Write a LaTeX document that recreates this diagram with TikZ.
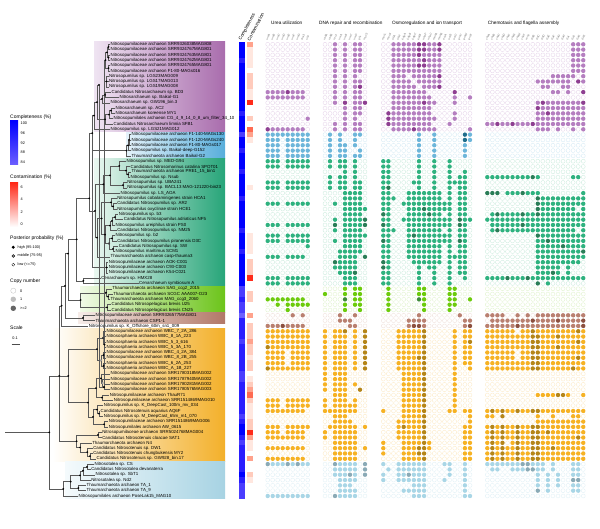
\documentclass[tikz,border=0pt]{standalone}
\usepackage{fontspec}
\setmainfont{Liberation Sans}
\usetikzlibrary{calc}
% dot colours (filled, dark, empty outline)
\definecolor{puC}{HTML}{B57FC0}\definecolor{puD}{HTML}{8E3F91}\definecolor{puL}{HTML}{E4D0E8}
\definecolor{blC}{HTML}{6DB6DA}\definecolor{blD}{HTML}{1F6E8C}\definecolor{blL}{HTML}{D2E9F4}
\definecolor{grC}{HTML}{2FB27F}\definecolor{grD}{HTML}{2A7D57}\definecolor{grL}{HTML}{C8EADB}
\definecolor{liC}{HTML}{6CCB0C}\definecolor{liD}{HTML}{3E8A3A}\definecolor{liL}{HTML}{DDF2C8}
\definecolor{brC}{HTML}{B98070}\definecolor{brD}{HTML}{8C5040}\definecolor{brL}{HTML}{EEDDD7}
\definecolor{orC}{HTML}{F6B224}\definecolor{orD}{HTML}{B58518}\definecolor{orL}{HTML}{FCE8C0}
\definecolor{lbC}{HTML}{A9D6E6}\definecolor{lbD}{HTML}{8AAAB6}\definecolor{lbL}{HTML}{DDEFF5}
% clade boxes
\definecolor{puBL}{HTML}{EFE4F2}\definecolor{puBR}{HTML}{A96DAD}
\definecolor{blBL}{HTML}{E4F2FA}\definecolor{blBR}{HTML}{58AEDB}
\definecolor{grBL}{HTML}{EAF7F0}\definecolor{grBR}{HTML}{27A579}
\definecolor{liBL}{HTML}{F2FAE8}\definecolor{liBR}{HTML}{6CC41A}
\definecolor{brBL}{HTML}{F6ECE8}\definecolor{brBR}{HTML}{B27868}
\definecolor{orBL}{HTML}{FFFFFF}\definecolor{orBR}{HTML}{F3B02A}
\definecolor{lbBL}{HTML}{F4FAFC}\definecolor{lbBR}{HTML}{A7D3E3}
% heat colours
\definecolor{cmp0}{HTML}{0000FF}\definecolor{cmp1}{HTML}{2A1EFF}\definecolor{cmp2}{HTML}{4A3DFF}\definecolor{cmp3}{HTML}{6D60FF}
\definecolor{ctm0}{HTML}{FFFFFF}\definecolor{ctm1}{HTML}{FFE7DF}\definecolor{ctm2}{HTML}{FFCBBC}\definecolor{ctm3}{HTML}{FFA28C}\definecolor{ctm4}{HTML}{FF6B52}\definecolor{ctm5}{HTML}{FF2B1A}

\newcommand\R[1]{44.3+(#1-1)*5.314}
\newcount\mgrp \newcount\mcol
\newcommand\mrow[3]{\pgfmathsetmacro\my{\R{#1}}\def\mclr{#2}\global\mgrp=1\relax\global\mcol=0\relax\mloop#3\relax}
\def\mloop#1{\ifx#1\relax\else\mone#1\expandafter\mloop\fi}
\def\mone#1{\if#1|\global\advance\mgrp by 1\relax\global\mcol=0\relax\else
 \global\advance\mcol by 1\relax
 \ifcase\mgrp\or\def\mxo{267.7}\def\mst{5}\or\def\mxo{325}\def\mst{5}\or\def\mxo{383.3}\def\mst{5.1}\or\def\mxo{487.3}\def\mst{5.05}\fi
 \pgfmathsetmacro\mx{\mxo+(\the\mcol-1)*\mst}%
 \if#10\def\mrad{2.0}\else\def\mrad{2.2}\fi
 \edef\mtmp{\noexpand\path[m-\mclr-#1] (\mx,\my) circle[radius=\mrad];}\mtmp
 \fi}

\tikzset{
 tree/.style={draw=black!65,line width=0.45pt},
 tip/.style={anchor=west,inner sep=0.4pt,font=\fontsize{4.4}{5}\selectfont},
 lgd/.style={anchor=west,inner sep=0pt,font=\fontsize{5}{6}\selectfont},
 lgs/.style={anchor=west,inner sep=0pt,font=\fontsize{3.8}{4.5}\selectfont},
 grp/.style={anchor=west,inner sep=0pt,font=\fontsize{4.7}{5.5}\selectfont},
 gene/.style={anchor=west,rotate=65,inner sep=0pt,text=black!55,font=\fontsize{2.9}{3}\selectfont},
 hdr/.style={anchor=west,rotate=62,inner sep=0pt,font=\fontsize{4.7}{5.5}\selectfont},
 m-pu-0/.style={draw=puL,line width=0.3pt},m-pu-1/.style={fill=puC},m-pu-2/.style={fill=puD},
 m-bl-0/.style={draw=blL,line width=0.3pt},m-bl-1/.style={fill=blC},m-bl-2/.style={fill=blD},
 m-gr-0/.style={draw=grL,line width=0.3pt},m-gr-1/.style={fill=grC},m-gr-2/.style={fill=grD},
 m-li-0/.style={draw=liL,line width=0.3pt},m-li-1/.style={fill=liC},m-li-2/.style={fill=liD},
 m-br-0/.style={draw=brL,line width=0.3pt},m-br-1/.style={fill=brC},m-br-2/.style={fill=brD},
 m-or-0/.style={draw=orL,line width=0.3pt},m-or-1/.style={fill=orC},m-or-2/.style={fill=orD},
 m-lb-0/.style={draw=lbL,line width=0.3pt},m-lb-1/.style={fill=lbC},m-lb-2/.style={fill=lbD},
}
\begin{document}
\begin{tikzpicture}[x=1pt,y=-1pt]
\useasboundingbox (0,0) rectangle (600,529);
\fill[white] (0,0) rectangle (600,529);

% ---------- clade boxes ----------
\shade[left color=puBL,right color=puBR] (94,{\R{1}-2.4}) rectangle (225,{\R{17}+2.4});
\shade[left color=blBL,right color=blBR] (126,{\R{18}-2.4}) rectangle (225,{\R{22}+2.4});
\shade[left color=grBL,right color=grBR] (94,{\R{23}-2.4}) rectangle (225,{\R{46}+2.4});
\shade[left color=liBL,right color=liBR] (80,{\R{47}-2.4}) rectangle (225,{\R{51}+2.4});
\shade[left color=brBL,right color=brBR] (78,{\R{52}-2.4}) rectangle (225,{\R{53}+2.4});
\shade[left color=orBL,right color=orBR] (52,{\R{55}-2.4}) rectangle (225,{\R{79}+2.4});
\shade[left color=lbBL,right color=lbBR] (65,{\R{80}-2.4}) rectangle (225,{\R{86}+2.4});

% ---------- tip labels ----------
\foreach \i/\x/\n in {
1/110/{Nitrosopumilaceae archaeon SRR9326038MAG808},
2/110/{Nitrosopumilaceae archaeon SRR9324767MAG801},
3/110/{Nitrosopumilaceae archaeon SRR9324763MAG801},
4/110/{Nitrosopumilaceae archaeon SRR9324762MAG801},
5/110/{Nitrosopumilaceae archaeon SRR9324765MAG801},
6/110/{Nitrosopumilaceae archaeon F1-80-MAGs016},
7/108.5/{Nitrosopumilus sp. LGS23MAG009},
8/108.5/{Nitrosopumilus sp. LGS17MAG013},
9/108.5/{Nitrosopumilus sp. LGS19MAG008},
10/111/{Candidatus Nitrosarchaeum sp. BD3},
11/119/{Nitrosarchaeum sp. Baikal-G1},
12/110/{Nitrosarchaeum sp. GW196\_bin.3},
13/115/{Nitrosarchaeum sp. AC2},
14/115/{Nitrosarchaeum koreense MY1},
15/113/{Nitrosopumilales archaeon CG\_4\_9\_14\_0\_8\_um\_filter\_34\_10},
16/113/{Candidatus Nitrosarchaeum limnia SFB1},
17/110/{Nitrosopumilus sp. LGS21MAG012},
18/131/{Nitrosopumilaceae archaeon F1-140-MAGs130},
19/131/{Nitrosopumilaceae archaeon F1-120-MAGs240},
20/131/{Nitrosopumilaceae archaeon F1-80-MAGs017},
21/131/{Nitrosopumilus sp. Baikal-deep-G152},
22/131/{Thaumarchaeota archaeon Baikal-G2},
23/126/{Nitrosopumilus sp. MED-G94},
24/130/{Candidatus Nitrosomarinus catalina SPOT01},
25/131/{Thaumarchaeota archaeon PRE1\_15\_bin1},
26/130/{Nitrosopumilus sp. Nsub},
27/126.7/{Nitrosopumilus sp. UBA241},
28/126.7/{Nitrosopumilus sp. BACL13 MAG-121220-bin23},
29/120/{Nitrosopumilus sp. LS\_AOA},
30/116.7/{Nitrosopumilus cobalaminigenes strain HCA1},
31/116.7/{Candidatus Nitrosopumilus sp. AR2},
32/116.7/{Nitrosopumilus oxyclinae strain HCE1},
33/118.3/{Nitrosopumilus sp. b3},
34/123.3/{Candidatus Nitrosopumilus adriaticus NF5},
35/115/{Nitrosopumilus ureiphilus strain PS0},
36/116.7/{Candidatus Nitrosopumilus sp. NM25},
37/115/{Nitrosopumilus sp. b2},
38/116.7/{Candidatus Nitrosopumilus piranensis D3C},
39/118.3/{Candidatus Nitrosopumilus sp. SW},
40/115/{Nitrosopumilus maritimus SCM1},
41/110/{Thaumarchaeota archaeon casp-thauma3},
42/108.3/{Nitrosopumilaceae archaeon AOK-C001},
43/108.3/{Nitrosopumilaceae archaeon C93-C003},
44/108.3/{Nitrosopumilaceae archaeon K54-C021},
45/100.7/{Cenarchaeum sp. HMX28},
46/138.5/{Cenarchaeum symbiosum A},
47/111.7/{Thaumarchaeota archaeon SAG\_ccg2\_2015},
48/112.7/{Thaumarchaeota archaeon SCGC AAA007-O23},
49/110/{Thaumarchaeota archaeon MAG\_ccg3\_2060},
50/111/{Candidatus Nitrosopelagicus brevis U25},
51/111/{Candidatus Nitrosopelagicus brevis CN25},
52/95/{Nitrosopumilaceae archaeon SRR9326577MAG801},
53/95/{Thaumarchaeota archaeon CSP1-1},
54/88.3/{Nitrosopumilus sp. K\_Offshore\_60m\_sn1\_009},
55/106/{Nitrosopumilaceae archaeon WBC\_7\_2A\_286},
56/106/{Nitrososphaeria archaeon WBC\_8\_1A\_223},
57/106/{Nitrososphaeria archaeon WBC\_5\_3\_616},
58/106/{Nitrososphaeria archaeon WBC\_5\_3A\_170},
59/106/{Nitrosopumilaceae archaeon WBC\_4\_2A\_384},
60/106/{Nitrosopumilaceae archaeon WBC\_8\_2B\_255},
61/106/{Nitrososphaeria archaeon WBC\_6\_2A\_253},
62/106/{Nitrososphaeria archaeon WBC\_A\_1B\_227},
63/110/{Nitrosopumilaceae archaeon SRR1780318MAG002},
64/110/{Nitrosopumilaceae archaeon SRR1787940MAG002},
65/110/{Nitrosopumilaceae archaeon SRR1780281MAG002},
66/110/{Nitrosopumilaceae archaeon SRR1780576MAG003},
67/109.3/{Nitrosopumilaceae archaeon ThauR71},
68/113.3/{Nitrosopumilaceae archaeon SRR1514869MAG010},
69/103.3/{Nitrosopumilus sp. K\_DeepCast\_100m\_mv\_034},
70/100/{Candidatus Nitrosotenuis aquarius AQ6F},
71/103.3/{Nitrosopumilus sp. M\_DeepCast\_65m\_m1\_070},
72/108.3/{Nitrosopumilaceae archaeon SRR1514869MAG006},
73/108.3/{Nitrosopumilales archaeon AW\_0615},
74/101.7/{Nitrosopumilaceae archaeon SRR5024768MAG004},
75/101.7/{Candidatus Nitrosotenuis cloacae SAT1},
76/91.7/{Thaumarchaeota archaeon N4},
77/92.7/{Candidatus Nitrosotenuis sp. DW1},
78/92.7/{Candidatus Nitrosotenuis chungbukensis MY2},
79/96/{Candidatus Nitrosotenuis sp. GW928\_bin.17},
80/94/{Nitrosotalea sp. CS},
81/90.7/{Candidatus Nitrosotalea devanaterra},
82/95/{Nitrosotalea sp. SbT1},
83/90.7/{Nitrosotalea sp. Nd2},
84/86/{Thaumarchaeota archaeon TA\_1},
85/86/{Thaumarchaeota archaeon TA\_9},
86/78/{Nitrosopumilales archaeon PoseLak15\_MAG10}}
{\node[tip] (t\i) at (\x,{\R{\i}}) {\n};}

% ---------- internal nodes ----------
\foreach \n/\x/\r in {a1/108.5/1.5, a2/108.5/3.5, a3/108.5/5.5, a4/107/2.5, a5/105.5/4, b1/106.5/8, c1/103/6, d1/105/10.5, d2/102/11.25, e1/99/8.625, f1/111/13.5, f2/109/14.25, f3/105/15.125, g1/97/11.875, P/94/14.4375, h1/129/19, h2/128/20, B/126.5/21, PB/92.3/17.72, j1/128/25.5, j2/126/24.75, j3/119.3/23.875, j4/123/27.5, j5/110/25.6875, j6/103.3/27.34, k1b/113/31.5, k1/111/30.75, k2/115/33.5, k3/112/34.25, k4/110/35.125, k5/112/37.5, k6/113/39.5, k7/109/38.5, k8/105/36.81, k9/101.7/33.78, k10/97/37.39, m1/106.7/43, G1/95/32.37, G2/89.3/30, CEN/83.3/45.5, G3/76.7/37.7, L1b/108/48.5, L1/106/47.75, L2/107/50.5, LIME/80.7/49.125, T2/68/40.4, BR/83/52.5, T3/65/46.45, UP/61.7/50.2, OW1b/104.5/57.5, OW1/103/56.25, OW2a/103.5/59.5, OW2b/103.5/61.5, OW2/101/60.5, OW/97/58.375, c1/104/65.5, c2/102.5/64.75, c3/101/63.875, OS1b/102/67.5, OS1/96/65.69, OS2a1/99/70.5, OS2a/97/69.75, OS2b/104/72.5, OS2/93/71.125, OS/88/68.41, OA/68.3/63.39, OZ1/98/74.5, NTN2/90/78.5, NTN/87.3/77.75, OZ2/80/76.875, OZ/76.7/75.69, IN/59.3/63.39, NTb/87/80.5, NTa/83/81.25, NT/80/82.125, TA/78.3/84.5, LBa/70.7/83.31, LB/63.3/84.66, N0/49.3/74.02}
{\coordinate (\n) at (\x,{\R{\r}});}
\coordinate (RT) at (5,{\R{74.02}});

% ---------- branches ----------
\foreach \p/\c in {a1/t1.west, a1/t2.west, a2/t3.west, a2/t4.west, a3/t5.west, a3/t6.west, a4/a1, a4/a2, a5/a4, a5/a3, b1/t7.west, b1/t8.west, b1/t9.west, c1/a5, c1/b1, d1/t10.west, d1/t11.west, d2/d1, d2/t12.west, e1/c1, e1/d2, f1/t13.west, f1/t14.west, f2/f1, f2/t15.west, f3/f2, f3/t16.west, g1/e1, g1/f3, P/g1, P/t17.west, h1/t18.west, h1/t19.west, h1/t20.west, h2/h1, h2/t21.west, B/h2, B/t22.west, PB/P, PB/B, j1/t25.west, j1/t26.west, j2/t24.west, j2/j1, j3/t23.west, j3/j2, j4/t27.west, j4/t28.west, j5/j3, j5/j4, j6/j5, j6/t29.west, k1b/t31.west, k1b/t32.west, k1/t30.west, k1/k1b, k2/t33.west, k2/t34.west, k3/k2, k3/t35.west, k4/k3, k4/t36.west, k5/t37.west, k5/t38.west, k6/t39.west, k6/t40.west, k7/k5, k7/k6, k8/k4, k8/k7, k9/k1, k9/k8, k10/k9, k10/t41.west, m1/t42.west, m1/t43.west, m1/t44.west, G1/j6, G1/k10, G2/PB, G2/G1, PB/m1, CEN/t45.west, CEN/t46.west, G3/G2, G3/CEN, L1b/t48.west, L1b/t49.west, L1/t47.west, L1/L1b, L2/t50.west, L2/t51.west, LIME/L1, LIME/L2, T2/G3, T2/LIME, BR/t52.west, BR/t53.west, T3/T2, T3/BR, UP/T3, UP/t54.west, OW1b/t57.west, OW1b/t58.west, OW1/t55.west, OW1/t56.west, OW1/OW1b, OW2a/t59.west, OW2a/t60.west, OW2b/t61.west, OW2b/t62.west, OW2/OW2a, OW2/OW2b, OW/OW1, OW/OW2, c1/t65.west, c1/t66.west, c2/t64.west, c2/c1, c3/t63.west, c3/c2, OS1b/t67.west, OS1b/t68.west, OS1/c3, OS1/OS1b, OS2a1/t70.west, OS2a1/t71.west, OS2a/t69.west, OS2a/OS2a1, OS2b/t72.west, OS2b/t73.west, OS2/OS2a, OS2/OS2b, OS/OS1, OS/OS2, OA/OW, OA/OS, OZ1/t74.west, OZ1/t75.west, NTN2/t78.west, NTN2/t79.west, NTN/t77.west, NTN/NTN2, OZ2/t76.west, OZ2/NTN, OZ/OZ1, OZ/OZ2, IN/UP, IN/OA, IN/OZ, NTb/t80.west, NTb/t81.west, NTa/NTb, NTa/t82.west, NT/NTa, NT/t83.west, TA/t84.west, TA/t85.west, LBa/NT, LBa/TA, LB/LBa, LB/t86.west, N0/IN, N0/LB}
{\draw[tree] (\p) |- (\c);}
\draw[tree] (RT) -- (N0);

% posterior dots
\foreach \n in {a1,a2,a3,a4,a5,b1,c1,d1,d2,e1,f1,f2,f3,g1,P,h1,h2,B,PB,j1,j2,j3,j4,j5,j6,k1b,k1,k2,k3,k4,k5,k6,k8,k9,k10,m1,G1,G2,CEN,G3,L1b,L1,L2,LIME,T2,BR,T3,UP,OW1b,OW2a,OW2b,OW,c1,c3,OS1b,OS1,OS2a1,OS2a,OS2b,OS2,OS,OA,OZ1,NTN2,NTN,OZ2,OZ,IN,NTb,NTa,NT,TA,LBa,LB,N0}
{\fill[black] (\n) circle[radius=1.0];}
\foreach \n in {k7,OW1}{\filldraw[fill=black!45,draw=black,line width=0.2pt] (\n) circle[radius=1.0];}
\foreach \n in {OW2,c2}{\filldraw[fill=white,draw=black!70,line width=0.25pt] (\n) circle[radius=1.0];}

% ---------- legend ----------
\node[lgd] (lg1) at (10,117) {Completeness (\%)};
\shade[top color=cmp0,bottom color=cmp3] (10,121) rectangle (18,165);
\foreach \t/\y in {100/123.5,96/133,92/143,88/152.5,84/162.3}{\node[lgs] at (20.5,\y) {\t};}
\node[lgd] (lg2) at (10,177.7) {Contamination (\%)};
\shade[top color=ctm5,bottom color=white] (10,183) rectangle (18,227);
\foreach \t/\y in {6/187,4/199.5,2/212,0/224.5}{\node[lgs] at (20.5,\y) {\t};}
\node[lgd] (lg3) at (10,238.3) {Posterior probability (\%)};
\fill[black] (13.3,247.3) circle[radius=1.6];
\filldraw[fill=black!45,draw=black,line width=0.3pt] (13.3,256) circle[radius=1.5];
\filldraw[fill=white,draw=black,line width=0.3pt] (13.3,264.7) circle[radius=1.5];
\node[lgs] at (17.5,247.3) {high (95-100)};
\node[lgs] at (17.5,256) {middle (75-95)};
\node[lgs] at (17.5,264.7) {low (<=75)};
\node[lgd] (lg4) at (10,281.7) {Copy number};
\draw[black!25,line width=0.3pt] (13.3,290.7) circle[radius=2.6];
\fill[black!25] (13.3,299.3) circle[radius=2.7];
\fill[black!60] (13.3,308.3) circle[radius=2.7];
\node[lgs] at (20,290.7) {0};
\node[lgs] at (20,299.3) {1};
\node[lgs] at (20,308.3) {>=2};
\node[lgd] (lg5) at (10,327.3) {Scale};
\node[lgs] at (12.3,338.3) {0.1};
\draw[black!70,line width=0.6pt] (11.7,344) -- (20,344);

% ---------- heat columns ----------
\foreach \r/\c/\k in {1/0/3,2/0/1,3/0/1,4/1/1,5/0/1,6/0/0,7/0/2,8/0/2,9/0/2,10/0/1,11/0/1,12/0/5,13/0/0,14/1/0,15/0/2,16/0/0,17/0/4,18/2/3,19/0/1,20/0/0,21/1/0,22/0/0,23/0/0,24/0/0,25/1/0,26/0/0,27/0/0,28/0/1,29/0/0,30/1/0,31/0/0,32/0/0,33/0/0,34/0/0,35/0/0,36/1/0,37/0/1,38/0/1,39/0/1,40/1/1,41/0/0,42/0/2,43/0/2,44/0/2,45/0/5,46/0/0,47/2/0,48/2/2,49/1/2,50/2/0,51/2/0,52/3/3,53/1/0,54/1/2,55/1/2,56/1/2,57/2/3,58/1/2,59/1/2,60/1/1,61/1/2,62/1/2,63/2/0,64/2/1,65/1/2,66/1/3,67/1/4,68/1/2,69/1/1,70/1/1,71/2/1,72/1/2,73/0/2,74/0/5,75/1/3,76/2/1,77/1/1,78/1/0,79/1/3,80/1/0,81/1/0,82/0/2,83/1/1,84/2/0,85/2/0,86/2/0}
{\fill[cmp\c] (239,{\R{\r}-2.7}) rectangle (245,{\R{\r}+2.7});
 \fill[ctm\k] (246.5,{\R{\r}-2.7}) rectangle (253,{\R{\r}+2.7});}
\node[hdr] (hc1) at (240,40.5) {Completeness};
\node[hdr] (hc2) at (248.5,40.5) {Contamination};

% ---------- group titles and gene headers ----------
\node[grp] (g1t) at (271,23.3) {Urea utilization};
\node[grp] (g2t) at (319,23.3) {DNA repair and recombination};
\node[grp] (g3t) at (392,23.3) {Osmoregulation and ion transport};
\node[grp] (g4t) at (487.7,23.3) {Chemotaxis and flagella assembly};
\foreach \g [count=\i] in {ureA,ureB,ureC,ureD,ureE,ureF,ureG,dur3,utp}
 {\node[gene] at ({267.7+(\i-1)*5-1},40) {\g};}
\foreach \g [count=\i] in {radA,radB,recJ,uvrA,uvrB,uvrC,uvrD,phr,mutS}
 {\node[gene] at ({325+(\i-1)*5-1},40) {\g};}
\foreach \g [count=\i] in {mscL,mscS,trkA,trkH,kdpA,kdpB,kdpC,kefB,nhaP,nhaC,mnhA,mnhB,ectA,ectB,ectC,proV,proW,proX}
 {\node[gene] at ({383.3+(\i-1)*5.1-1},40) {\g};}
\foreach \g [count=\i] in {cheA,cheB,cheC,cheD,cheF,cheR,cheW,cheY,mcp,flaB,flaC,flaD,flaE,flaF,flaG,flaH,flaI,flaJ,flaK,flaX}
 {\node[gene] at ({487.3+(\i-1)*5.05-1},40) {\g};}

% ---------- dot matrix ----------
\mrow{1}{pu}{000000000|001010110|001111122112000000|00000000000000000111}
\mrow{2}{pu}{000000000|001010110|001111122112000000|00000000000000000111}
\mrow{3}{pu}{000000000|001010110|001111121111000000|00000000000000000111}
\mrow{4}{pu}{000000000|001010110|001111112111000000|00000000000000000111}
\mrow{5}{pu}{000000000|001010110|001111122111000000|00000000000000000111}
\mrow{6}{pu}{000000000|001010110|001111111111000000|00000000000000000111}
\mrow{7}{pu}{000000000|001010100|001110111112000000|00000000000001111101}
\mrow{8}{pu}{000000000|001010110|001111011111000000|00000000001111111021}
\mrow{9}{pu}{000000000|001010120|001111101112000000|00000000000110011000}
\mrow{10}{pu}{111121110|001010110|001111111000002000|00000000000001101002}
\mrow{11}{pu}{111111110|001010110|001111111100001001|00000000000000000000}
\mrow{12}{pu}{000000000|001020112|001111112110001000|00000000001211111112}
\mrow{13}{pu}{000000000|000010110|001111111100000000|00000000002111111111}
\mrow{14}{pu}{000000000|000010110|021111111100001000|00000000001121111111}
\mrow{15}{pu}{000000001|000010100|021111111110001000|00000000001111111111}
\mrow{16}{pu}{000000000|001010110|021111111100010000|11211211121111111111}
\mrow{17}{pu}{211111110|001010110|001111211110000001|00000000001110100101}
\mrow{18}{bl}{111111111|010100110|000000010010000021|00000000000000000000}
\mrow{19}{bl}{111011111|010100100|000000010010000021|00000000000000000000}
\mrow{20}{bl}{111011111|010110100|000000010010000010|00000000000000000000}
\mrow{21}{bl}{111011111|010110010|000000010010000010|00000000000000000000}
\mrow{22}{bl}{111011111|010110110|000000010010000010|00000000000000000000}
\mrow{23}{gr}{111011111|010110100|110000010010010000|00000000000000000000}
\mrow{24}{gr}{111011111|010110100|110000010010010000|00000000000000000000}
\mrow{25}{gr}{000000000|000010100|110000010010010010|00000000000000000000}
\mrow{26}{gr}{000000000|010110100|110000010010010110|11111111121000000110}
\mrow{27}{gr}{111011111|010110110|110000110010011110|00000000000000000000}
\mrow{28}{gr}{111011111|010110110|120000010010010110|00000000000000000000}
\mrow{29}{gr}{000000000|000011110|110001111111010110|22201112111000000001}
\mrow{30}{gr}{000000000|000011110|111001111111010110|00000000002111111111}
\mrow{31}{gr}{111011111|001011110|110011111111110110|00000000002111111111}
\mrow{32}{gr}{000000000|000011111|110001112111110110|00000000002111111101}
\mrow{33}{gr}{000000000|000011110|210001111211010110|01211112112111111111}
\mrow{34}{gr}{000000000|001011112|110011111111110211|11111111111111111111}
\mrow{35}{gr}{111011111|002011112|210001111111110210|01111112111111111111}
\mrow{36}{gr}{000000000|001011110|111001111111010110|01211111111111111101}
\mrow{37}{gr}{111011111|000011111|110001211111110110|00000000002111111111}
\mrow{38}{gr}{111011111|001011110|210001111111110210|00000000001121111111}
\mrow{39}{gr}{000000001|000011110|110001111111010110|00000000001111121111}
\mrow{40}{gr}{000000000|000111110|110001111111010110|00000000001111111112}
\mrow{41}{gr}{111011110|000111102|110001111111011110|00000000001111111111}
\mrow{42}{gr}{000000000|002111100|210000111111010110|00000000001111111110}
\mrow{43}{gr}{000000000|001111100|210000010110010110|00000000001111101000}
\mrow{44}{gr}{000000000|000111200|110000010010010110|00000000001112101000}
\mrow{45}{gr}{111011111|000011100|110000010010010010|11112111211111111111}
\mrow{46}{gr}{111011111|000011100|110000010010010000|00000000002010000000}
\mrow{47}{li}{000000000|000010110|010000011000011000|00000000000000000000}
\mrow{48}{li}{000000000|100010110|010000011000011000|00000000000000000000}
\mrow{49}{li}{111111110|000020110|010000021000011001|00000000000000000000}
\mrow{50}{li}{001011111|000010110|010000001000011000|00000000000000000000}
\mrow{51}{li}{000010000|000010010|010000001000010000|00000000000000000000}
\mrow{52}{br}{000001010|000100100|000000010000000100|11110010101111111111}
\mrow{53}{br}{000000000|000111000|000001111000000011|01111111121111211112}
\mrow{54}{br}{111211110|000001100|000001221000000012|11111121111111111112}
\mrow{55}{or}{111111111|101120102|000111112000001011|11111101121111111121}
\mrow{56}{or}{111111111|101110102|000111112000001011|11111111122111211111}
\mrow{57}{or}{111111111|101110102|000111112000001012|11111111122111111121}
\mrow{58}{or}{211111111|101110102|000111112000001011|11111111122111211111}
\mrow{59}{or}{111101111|101110102|000111112000001011|11111101122111111111}
\mrow{60}{or}{111101111|101110102|000111122000001011|11111101122111111121}
\mrow{61}{or}{111101111|101110102|000111112000001011|11111111122111111111}
\mrow{62}{or}{211111111|101110102|000111112000001001|11111111122111111211}
\mrow{63}{or}{000000000|101110000|000011112000001000|00000000000000000000}
\mrow{64}{or}{000000000|101110000|000011112000001000|00000000000000000000}
\mrow{65}{or}{000000000|101110100|000011112000001000|00000000000000000000}
\mrow{66}{or}{000000000|101110020|000011112000001000|00000000000000000000}
\mrow{67}{or}{000000000|001110000|000011112000001000|00000000001111221001}
\mrow{68}{or}{111011111|101110100|000011112000001000|00000000000000000000}
\mrow{69}{or}{111011111|101111100|000011112000001000|00000000000000000000}
\mrow{70}{or}{111111110|111111100|100011112000011011|12121121122111111111}
\mrow{71}{or}{000000000|001110000|000011112000000001|11020000001001000110}
\mrow{72}{or}{000000000|001111000|000111112000000001|00000000001111111111}
\mrow{73}{or}{111011111|011111101|000121112000000011|12121121122111111111}
\mrow{74}{or}{111011110|101111100|000111112000000011|12121121122121111111}
\mrow{75}{or}{111111110|101111100|000111112000000011|12121121122111111121}
\mrow{76}{or}{000000000|001111100|100011112100000011|12120121122111111111}
\mrow{77}{or}{111111110|001111101|100011122100000011|12121121122112111111}
\mrow{78}{or}{000000000|001111100|100011122000000011|12121121122111111111}
\mrow{79}{or}{111111110|001111100|000011112000000011|12121121122111111111}
\mrow{80}{lb}{211121211|002111102|100111111000110010|11111112211101000110}
\mrow{81}{lb}{000000000|001111102|010111111000010010|01100111221101000110}
\mrow{82}{lb}{000000000|001112102|100112111000010010|00000000001010100110}
\mrow{83}{lb}{000000000|000111100|100111111000100010|00000000001010100220}
\mrow{84}{lb}{000000000|000111000|000000111000000010|00000000001010100110}
\mrow{85}{lb}{000000000|000111100|000011111000000010|00000000002010000110}
\mrow{86}{lb}{111111111|002111100|000000111000000011|00000000000000000000}
\end{tikzpicture}
\end{document}
